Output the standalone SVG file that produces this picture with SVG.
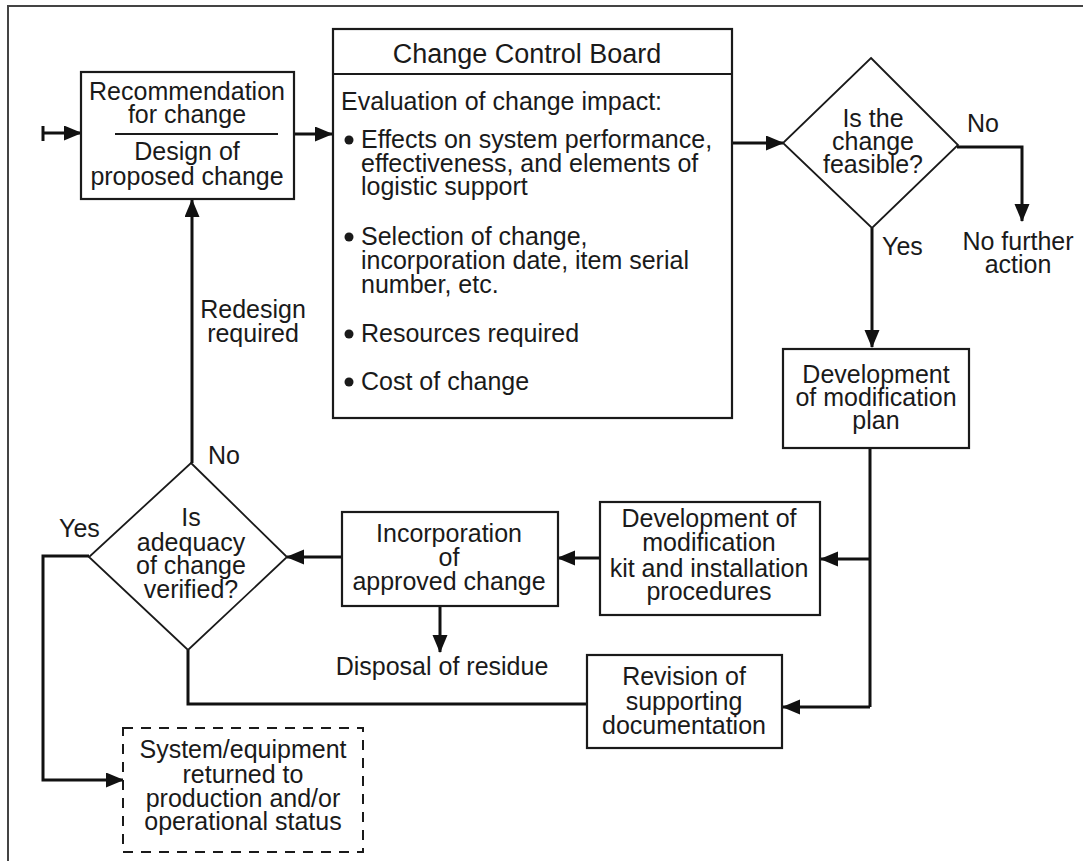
<svg xmlns="http://www.w3.org/2000/svg" width="1083" height="861" viewBox="0 0 1083 861">
<defs>
<style>
text{font-family:"Liberation Sans",Arial,Helvetica,sans-serif;font-size:25px;fill:#1a1a1a}
.c{text-anchor:middle}
.box{fill:#fff;stroke:#1a1a1a;stroke-width:2.2}
.dia{fill:#fff;stroke:#1a1a1a;stroke-width:1.8}
.dash{fill:#fff;stroke:#1a1a1a;stroke-width:2;stroke-dasharray:10 8}
.ln{fill:none;stroke:#111;stroke-width:3}
.arr{fill:none;stroke:#111;stroke-width:3;marker-end:url(#ah)}
</style>
<marker id="ah" markerUnits="userSpaceOnUse" markerWidth="18" markerHeight="16" refX="17" refY="7.5" orient="auto">
<path d="M0,0 L18,7.5 L0,15 z" fill="#111"/>
</marker>
</defs>
<rect width="1083" height="861" fill="#fff"/>
<path d="M8,861 V6 H1083" fill="none" stroke="#444" stroke-width="2"/>

<g id="connectors">
<path class="ln" d="M43,126 V141"/>
<path class="arr" d="M43,133 H81"/>
<path class="arr" d="M294,134 H332"/>
<path class="arr" d="M732,143 H783"/>
<path class="arr" d="M957,147 H1022 V221"/>
<path class="arr" d="M872,228 V347"/>
<path class="ln" d="M870,448 V707"/>
<path class="arr" d="M870,559 H821"/>
<path class="arr" d="M870,707 H783"/>
<path class="arr" d="M600,558 H558"/>
<path class="arr" d="M342,557 H287"/>
<path class="arr" d="M440,606 V652"/>
<path class="ln" d="M188,650 V704 H587"/>
<path class="arr" d="M192,463 V200"/>
<path class="arr" d="M89,556 H43 V780 H123"/>
<text x="253" y="318" class="c">Redesign</text>
<text x="253" y="342" class="c">required</text>
<text x="208" y="464">No</text>
<text x="59" y="537">Yes</text>
<text x="967" y="132">No</text>
<text x="882" y="255">Yes</text>
</g>

<g id="recommendation">
<rect class="box" x="81" y="72" width="213" height="127"/>
<line x1="115" y1="134" x2="278" y2="134" stroke="#1a1a1a" stroke-width="2"/>
<text x="187" y="100" class="c">Recommendation</text>
<text x="187" y="123" class="c">for change</text>
<text x="187" y="160" class="c">Design of</text>
<text x="187" y="185" class="c">proposed change</text>
</g>

<g id="ccb">
<rect class="box" x="333" y="29" width="399" height="389"/>
<line x1="333" y1="74" x2="732" y2="74" stroke="#1a1a1a" stroke-width="2.2"/>
<text x="527" y="63" class="c" style="font-size:27px">Change Control Board</text>
<text x="341" y="110">Evaluation of change impact:</text>
<circle cx="349" cy="140" r="4.5" fill="#1a1a1a"/>
<text x="361" y="148">Effects on system performance,</text>
<text x="361" y="172">effectiveness, and elements of</text>
<text x="361" y="195">logistic support</text>
<circle cx="349" cy="237" r="4.5" fill="#1a1a1a"/>
<text x="361" y="245">Selection of change,</text>
<text x="361" y="269">incorporation date, item serial</text>
<text x="361" y="293">number, etc.</text>
<circle cx="349" cy="334" r="4.5" fill="#1a1a1a"/>
<text x="361" y="342">Resources required</text>
<circle cx="349" cy="382" r="4.5" fill="#1a1a1a"/>
<text x="361" y="390">Cost of change</text>
</g>

<g id="feasible">
<polygon class="dia" points="871,58 958,145 872,228 783,143"/>
<text x="873" y="127" class="c">Is the</text>
<text x="873" y="150" class="c">change</text>
<text x="873" y="173" class="c">feasible?</text>
</g>

<g id="nofurther">
<text x="1018" y="250" class="c">No further</text>
<text x="1018" y="273" class="c">action</text>
</g>

<g id="modplan">
<rect class="box" x="783" y="349" width="186" height="99"/>
<text x="876" y="383" class="c">Development</text>
<text x="876" y="406" class="c">of modification</text>
<text x="876" y="429" class="c">plan</text>
</g>

<g id="modkit">
<rect class="box" x="600" y="502" width="220" height="113"/>
<text x="709" y="527" class="c">Development of</text>
<text x="709" y="551" class="c">modification</text>
<text x="709" y="577" class="c">kit and installation</text>
<text x="709" y="600" class="c">procedures</text>
</g>

<g id="incorporation">
<rect class="box" x="342" y="512" width="216" height="94"/>
<text x="449" y="542" class="c">Incorporation</text>
<text x="449" y="566" class="c">of</text>
<text x="449" y="590" class="c">approved change</text>
</g>

<g id="disposal">
<text x="442" y="675" class="c">Disposal of residue</text>
</g>

<g id="revision">
<rect class="box" x="587" y="655" width="195" height="93"/>
<text x="684" y="685" class="c">Revision of</text>
<text x="684" y="710" class="c">supporting</text>
<text x="684" y="734" class="c">documentation</text>
</g>

<g id="verified">
<polygon class="dia" points="191,463 287,557 188,650 89,557"/>
<text x="191" y="526" class="c">Is</text>
<text x="191" y="551" class="c">adequacy</text>
<text x="191" y="574" class="c">of change</text>
<text x="191" y="598" class="c">verified?</text>
</g>

<g id="returned">
<rect class="dash" x="123" y="728" width="240" height="124"/>
<text x="243" y="758" class="c">System/equipment</text>
<text x="243" y="783" class="c">returned to</text>
<text x="243" y="807" class="c">production and/or</text>
<text x="243" y="830" class="c">operational status</text>
</g>
</svg>
